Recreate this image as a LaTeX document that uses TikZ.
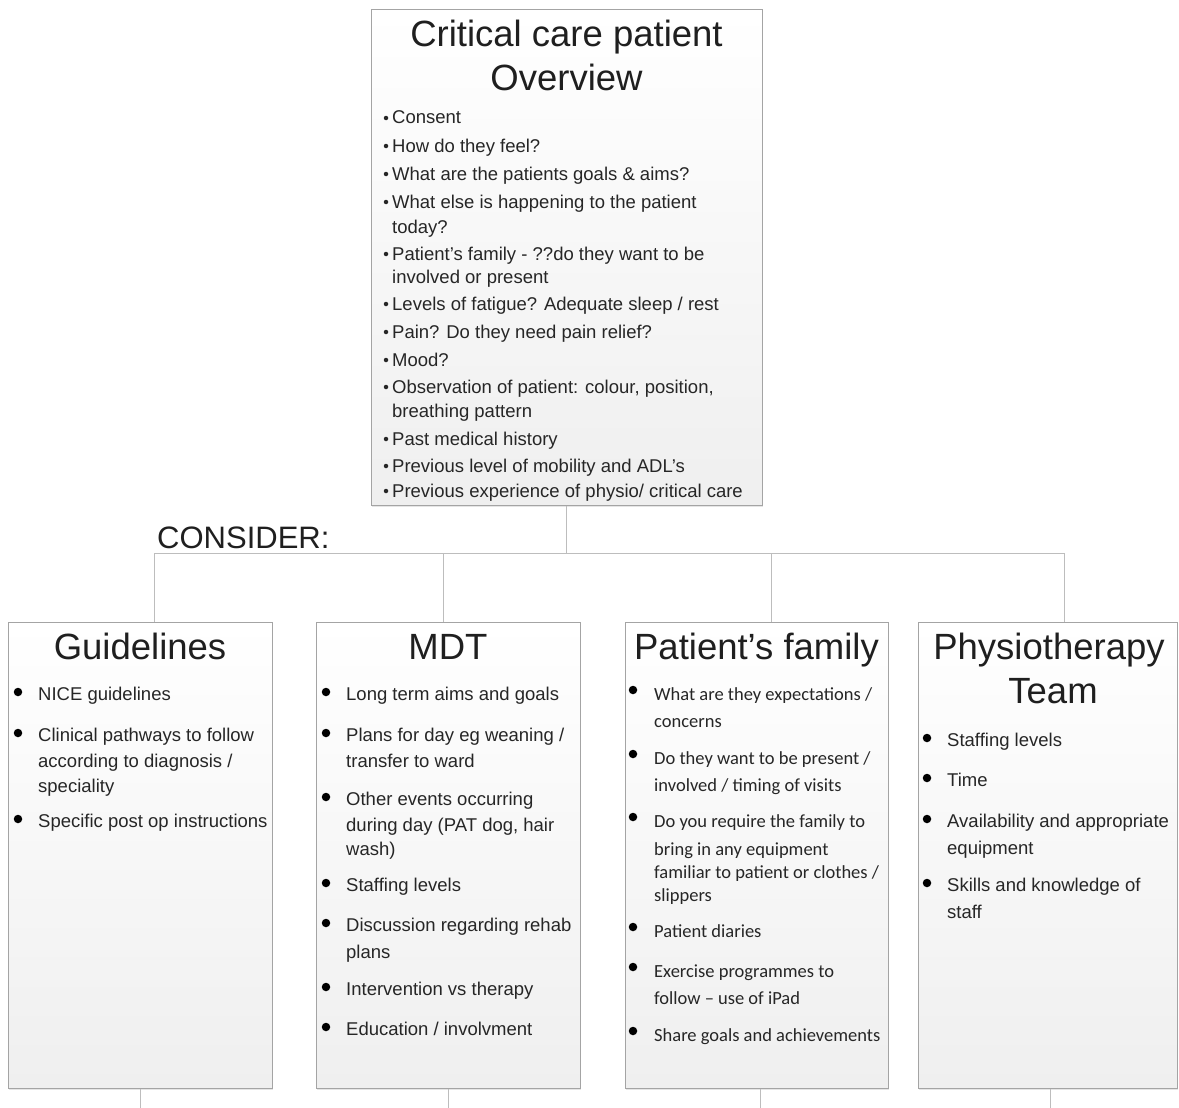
\documentclass[tikz,border=0pt]{standalone}
\usepackage{fontspec}
\setmainfont{Liberation Sans}
\newfontfamily\calib{Carlito}
\usetikzlibrary{shadows}
\definecolor{boxline}{HTML}{A4A4A4}
\definecolor{conncol}{HTML}{BDBDBD}
\definecolor{txt}{HTML}{262626}
\definecolor{boxbot}{HTML}{EFEFEF}
\tikzset{
  box/.style={draw=boxline, line width=1pt, top color=white, bottom color=boxbot, inner sep=0,
    drop shadow={opacity=0.2, shadow xshift=1pt, shadow yshift=-1.5pt}},
  link/.style={draw=conncol, line width=1pt},
  ttl/.style={font=\fontsize{36.5}{40}\selectfont, text=black!88, anchor=base, inner sep=0},
  ln/.style={anchor=base west, inner sep=0, text=txt, font=\fontsize{18.5}{22}\selectfont},
  lnc/.style={anchor=base west, inner sep=0, text=txt, font=\calib\fontsize{18.5}{22}\selectfont},
  sdot/.style={circle, fill=txt, inner sep=0, minimum size=4.5},
  bdot/.style={circle, fill=black, inner sep=0, minimum size=8.5},
}
\newcommand\BulS[4]{\node[sdot] (#1d) at (#2-6,#3-6) {}; \node[ln] (#1) at (#2,#3) {#4};}
\newcommand\BulB[4]{\node[bdot] (#1d) at (#2-20,#3-8) {}; \node[ln] (#1) at (#2,#3) {#4};}
\newcommand\BulC[4]{\node[bdot] (#1d) at (#2-21,#3-10) {}; \node[lnc] (#1) at (#2,#3) {#4};}
\newcommand\ContL[4]{\node[ln] (#1) at (#2,#3) {#4};}
\newcommand\ContC[4]{\node[lnc] (#1) at (#2,#3) {#4};}
\begin{document}
\begin{tikzpicture}[x=1pt,y=-1pt]
\useasboundingbox[fill=white] (0,0) rectangle (1179,1108);

% boxes
\node[box, minimum width=391, minimum height=495] (top) at (566.5,257.5) {};
\node[box, minimum width=264, minimum height=466] (gl) at (140,855) {};
\node[box, minimum width=264, minimum height=466] (mdt) at (448,855) {};
\node[box, minimum width=263, minimum height=466] (pf) at (756.5,855) {};
\node[box, minimum width=259, minimum height=466] (pt) at (1047.5,855) {};

% connectors
\coordinate (j) at (566.5,553);
\coordinate (h1) at (154,553);
\coordinate (h2) at (443,553);
\coordinate (h3) at (771,553);
\coordinate (h4) at (1064,553);
\draw[link] (top.south) -- (j);
\draw[link] (h1) -- (h4);
\draw[link] (h1) -- (h1 |- gl.north);
\draw[link] (h2) -- (h2 |- mdt.north);
\draw[link] (h3) -- (h3 |- pf.north);
\draw[link] (h4) -- (h4 |- pt.north);
\coordinate (e1) at (140,1108);
\coordinate (e2) at (448,1108);
\coordinate (e3) at (760,1108);
\coordinate (e4) at (1050,1108);
\draw[link] (e1 |- gl.south) -- (e1);
\draw[link] (e2 |- mdt.south) -- (e2);
\draw[link] (e3 |- pf.south) -- (e3);
\draw[link] (e4 |- pt.south) -- (e4);

\node[anchor=base west, inner sep=0, font=\fontsize{31}{34}\selectfont, text=black!88] (consider) at (157,548) {CONSIDER:};

% top box
\node[ttl] (tt1) at (566.5,47) {Critical care patient};
\node[ttl] (tt2) at (566.5,91) {Overview};
\BulS{o1}{392}{124}{Consent}
\BulS{o2}{392}{152}{How do they feel?}
\BulS{o3}{392}{180}{What are the patients goals \& aims?}
\BulS{o4}{392}{208}{What else is happening to the patient}
\ContL{o4b}{392}{233}{today?}
\BulS{o5}{392}{260}{Patient’s family - ??do they want to be}
\ContL{o5b}{392}{283}{involved or present}
\BulS{o6}{392}{310}{Levels of fatigue? Adequate sleep / rest}
\BulS{o7}{392}{338}{Pain? Do they need pain relief?}
\BulS{o8}{392}{366}{Mood?}
\BulS{o9}{392}{393}{Observation of patient: colour, position,}
\ContL{o9b}{392}{417}{breathing pattern}
\BulS{o10}{392}{445}{Past medical history}
\BulS{o11}{392}{472}{Previous level of mobility and ADL’s}
\BulS{o12}{392}{497}{Previous experience of physio/ critical care}

% Guidelines
\node[ttl] (glt) at (140,659) {Guidelines};
\BulB{g1}{38}{700}{NICE guidelines}
\BulB{g2}{38}{741}{Clinical pathways to follow}
\ContL{g2b}{38}{767}{according to diagnosis /}
\ContL{g2c}{38}{792}{speciality}
\BulB{g3}{38}{827}{Specific post op instructions}

% MDT
\node[ttl] (mdtt) at (448,659) {MDT};
\BulB{m1}{346}{700}{Long term aims and goals}
\BulB{m2}{346}{741}{Plans for day eg weaning /}
\ContL{m2b}{346}{767}{transfer to ward}
\BulB{m3}{346}{805}{Other events occurring}
\ContL{m3b}{346}{831}{during day (PAT dog, hair}
\ContL{m3c}{346}{855}{wash)}
\BulB{m4}{346}{891}{Staffing levels}
\BulB{m5}{346}{931}{Discussion regarding rehab}
\ContL{m5b}{346}{958}{plans}
\BulB{m6}{346}{995}{Intervention vs therapy}
\BulB{m7}{346}{1035}{Education / involvment}

% Patient's family
\node[ttl] (pft) at (756.5,659) {Patient’s family};
\BulC{p1}{654}{700}{What are they expectations /}
\ContC{p1b}{654}{727}{concerns}
\BulC{p2}{654}{764}{Do they want to be present /}
\ContC{p2b}{654}{791}{involved / timing of visits}
\BulC{p3}{654}{827}{Do you require the family to}
\ContC{p3b}{654}{855}{bring in any equipment}
\ContC{p3c}{654}{878}{familiar to patient or clothes /}
\ContC{p3d}{654}{901}{slippers}
\BulC{p4}{654}{937}{Patient diaries}
\BulC{p5}{654}{977}{Exercise programmes to}
\ContC{p5b}{654}{1004}{follow – use of iPad}
\BulC{p6}{654}{1041}{Share goals and achievements}

% Physiotherapy Team
\node[ttl] (ptt1) at (1049,659) {Physiotherapy};
\node[ttl] (ptt2) at (1053,703) {Team};
\BulB{t1}{947}{746}{Staffing levels}
\BulB{t2}{947}{786}{Time}
\BulB{t3}{947}{827}{Availability and appropriate}
\ContL{t3b}{947}{854}{equipment}
\BulB{t4}{947}{891}{Skills and knowledge of}
\ContL{t4b}{947}{918}{staff}
\end{tikzpicture}
\end{document}
